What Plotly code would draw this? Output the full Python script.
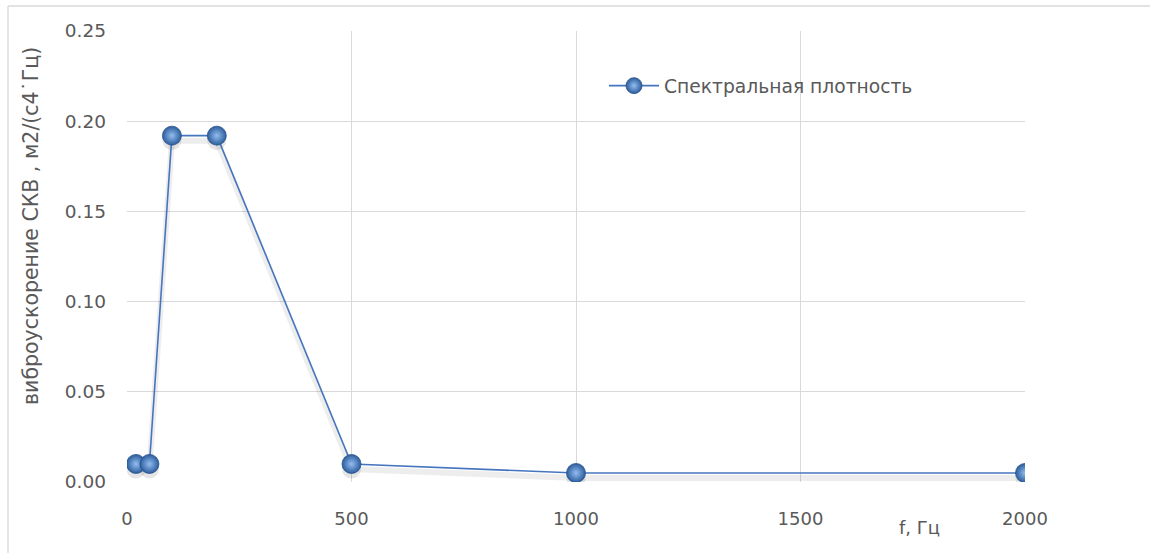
import plotly.graph_objects as go

# Spectral density of vibration acceleration vs frequency
freq_hz = [20, 50, 100, 200, 500, 1000, 2000]
psd = [0.01, 0.01, 0.192, 0.192, 0.01, 0.005, 0.005]

series_name = "Спектральная плотность"
x_title = "f, Гц"
y_title = "виброускорение СКВ , м2/(с4˙Гц)"
x_ticks = [0, 500, 1000, 1500, 2000]
y_ticks = [0.0, 0.05, 0.10, 0.15, 0.20, 0.25]

W, H = 1150, 553
ML, MR, MT, MB = 127, 125, 31, 71
PW, PH = W - ML - MR, H - MT - MB

LINE = "#4675bf"
TEXT = "#595959"
GRID = "#d9d9d9"
FONT = "DejaVu Sans, Open Sans, sans-serif"

# shadow offset of about 5 px expressed in y data units
y_span = 0.25
shadow_dy = 5 * y_span / PH

fig = go.Figure()

# soft drop shadow under the line
fig.add_trace(go.Scatter(
    x=freq_hz, y=[v - shadow_dy for v in psd], mode="lines",
    line=dict(color="rgba(0,0,0,0.07)", width=6),
    hoverinfo="skip", showlegend=False,
))
# shadows under the spheres
fig.add_trace(go.Scatter(
    x=freq_hz, y=[v - shadow_dy for v in psd], mode="markers",
    marker=dict(size=19, color="rgba(0,0,0,0.10)", line=dict(width=0)),
    hoverinfo="skip", showlegend=False,
))
fig.add_trace(go.Scatter(
    x=freq_hz, y=psd, mode="lines+markers", name=series_name,
    line=dict(color=LINE, width=1.6),
    marker=dict(size=19, color="#2c5d9c",
                gradient=dict(type="radial", color="#93bdf0"),
                line=dict(color="#27538c", width=0.8)),
))

# chart-area frame: left edge and top edge
fx0 = (8 - ML) / PW
fy1 = (H - MB - 6) / PH

fig.update_layout(
    width=W, height=H,
    margin=dict(l=ML, r=MR, t=MT, b=MB),
    paper_bgcolor="white", plot_bgcolor="white",
    font=dict(family=FONT, color=TEXT, size=17),
    showlegend=True,
    legend=dict(
        x=(604 - ML) / PW, y=(H - MB - 86) / PH,
        xanchor="left", yanchor="middle",
        bgcolor="rgba(0,0,0,0)", font=dict(size=18.7, color=TEXT),
        itemwidth=50,
    ),
    xaxis=dict(
        range=[0, 2000], tickvals=x_ticks, showgrid=True, gridcolor=GRID,
        gridwidth=1.3, zeroline=False, showline=False, ticks="",
        ticklabelstandoff=24, tickfont=dict(size=18, color=TEXT),
    ),
    yaxis=dict(
        range=[0, 0.25], tickvals=y_ticks, tickformat=".2f", showgrid=True,
        gridcolor=GRID, gridwidth=1.3, zeroline=False, showline=False,
        ticks="", ticklabelstandoff=20, tickfont=dict(size=18.5, color=TEXT),
    ),
    annotations=[
        dict(text=x_title, xref="paper", yref="paper",
             x=(919 - ML) / PW, y=-(527 - (H - MB)) / PH,
             xanchor="center", yanchor="middle", showarrow=False,
             font=dict(size=18, color=TEXT)),
        dict(text=y_title, xref="paper", yref="paper",
             x=(31 - ML) / PW, y=(H - MB - 226) / PH, textangle=-90,
             xanchor="center", yanchor="middle", showarrow=False,
             font=dict(size=20.5, color=TEXT)),
    ],
    shapes=[
        dict(type="line", xref="paper", yref="paper", layer="below",
             x0=fx0, x1=fx0, y0=-0.3, y1=fy1,
             line=dict(color="#d9d9d9", width=1.3)),
        dict(type="line", xref="paper", yref="paper", layer="below",
             x0=fx0, x1=1.3, y0=fy1, y1=fy1,
             line=dict(color="#d9d9d9", width=1.3)),
    ],
)

# keep the page free of margins and scrollbars
page_css = (
    "document.documentElement.style.overflow='hidden';"
    "document.body.style.margin='0';"
    "document.body.style.overflow='hidden';"
)
fig.write_html("out.html", post_script=page_css)
